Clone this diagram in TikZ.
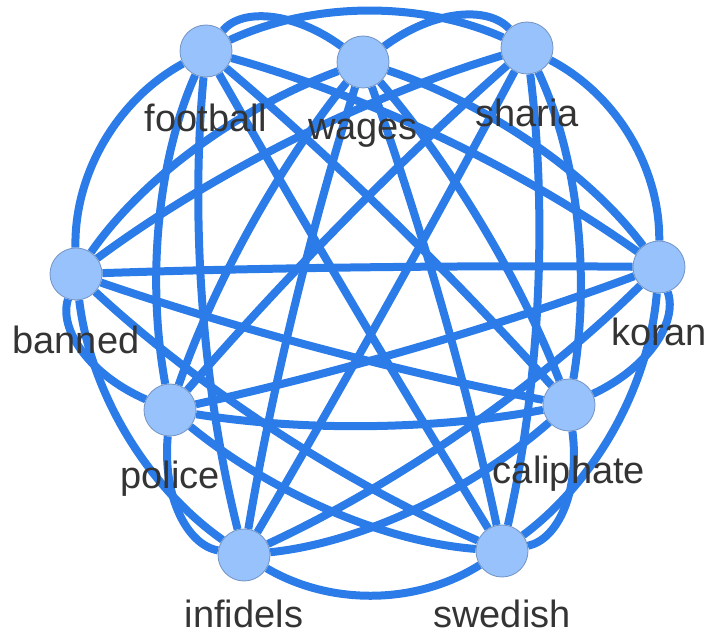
\documentclass[tikz,border=0pt]{standalone}
\usepackage{fontspec}
\setmainfont{Liberation Sans}
\usetikzlibrary{calc,backgrounds}
\definecolor{edgeblue}{HTML}{2B7CE9}
\definecolor{nodefill}{HTML}{97C2FC}
\definecolor{nodeline}{HTML}{7393C2}
\definecolor{labelgray}{HTML}{343434}

\begin{document}
\begin{tikzpicture}[
    x=1pt,y=-1pt,
    term/.style={circle,fill=nodefill,draw=nodeline,line width=0.8pt,minimum size=52pt,inner sep=0pt},
    termlabel/.style={anchor=base,text=labelgray,font=\fontsize{38}{40}\selectfont,inner sep=0pt},
    link/.style={edgeblue,line width=8pt}]
    \def\bend{1.3}
    \useasboundingbox (0,0) rectangle (710,639);
    \coordinate (g) at (368,291);

    % terms and their labels
    \foreach \nm/\px/\py/\dy in {football/206/51/81, wages/363/62/78, sharia/527/48/79,
        koran/659/267/78, caliphate/569/405/78, swedish/502/551/76,
        infidels/244/555/72, police/170/410/78, banned/76/274/79} {
        \node[term] (\nm) at (\px,\py) {};
        \node[termlabel] (\nm-lbl) at (\px,{\py+\dy}) {\nm};
    }

    % every pair of terms is linked, bent away from the middle
    \begin{pgfonlayer}{background}
    \foreach \a [count=\i] in {football,wages,sharia,koran,caliphate,swedish,infidels,police,banned}
        \foreach \b [count=\j] in {football,wages,sharia,koran,caliphate,swedish,infidels,police,banned} {
            \ifnum\j>\i
                \coordinate (m) at ($(\a)!.5!(\b)$);
                \coordinate (c) at ($(g)!\bend!(m)$);
                \draw[link] (\a) .. controls ($(\a)!2/3!(c)$) and ($(\b)!2/3!(c)$) .. (\b);
            \fi
        }
    \end{pgfonlayer}
\end{tikzpicture}
\end{document}
